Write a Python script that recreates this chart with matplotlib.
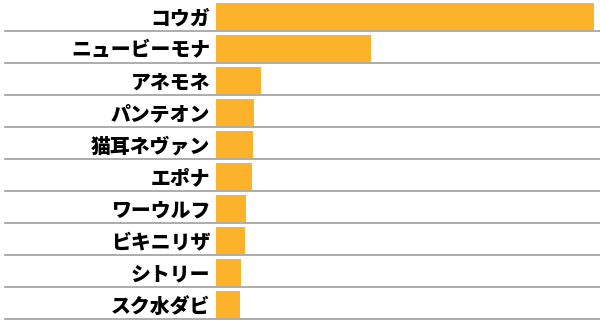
import matplotlib.pyplot as plt
from matplotlib.transforms import blended_transform_factory

names = ['コウガ', 'ニュービーモナ', 'アネモネ', 'パンテオン', '猫耳ネヴァン',
         'エポナ', 'ワーウルフ', 'ビキニリザ', 'シトリー', 'スク水ダビ']
votes = [378, 155, 45, 38, 37, 36, 30, 29, 25, 24]

plt.rcParams['font.family'] = ['Noto Sans CJK JP', 'DejaVu Sans']

fig = plt.figure(figsize=(6, 3.21), dpi=100)
ax = fig.add_axes([216 / 600, 1 / 321, 378 / 600, 320 / 321])

pos = [i + 0.52 for i in range(len(names))]
ax.barh(pos, votes, height=0.86, color='#FDB22B')
ax.set_xlim(0, max(votes))
ax.set_ylim(len(names), 0)

# 行の区切り線
tr = blended_transform_factory(fig.transFigure, ax.transData)
for i in range(len(names)):
    ax.plot([5 / 600, 1], [i + 0.98, i + 0.98], color='#A6A6A6', lw=1.3,
            transform=tr, clip_on=False, zorder=0)

ax.set_yticks(pos)
ax.set_yticklabels(names, fontsize=14.3, fontweight='heavy')
ax.tick_params(axis='y', length=0, pad=4)
ax.set_xticks([])
for s in ax.spines.values():
    s.set_visible(False)

fig.savefig('out.png', dpi=100)
